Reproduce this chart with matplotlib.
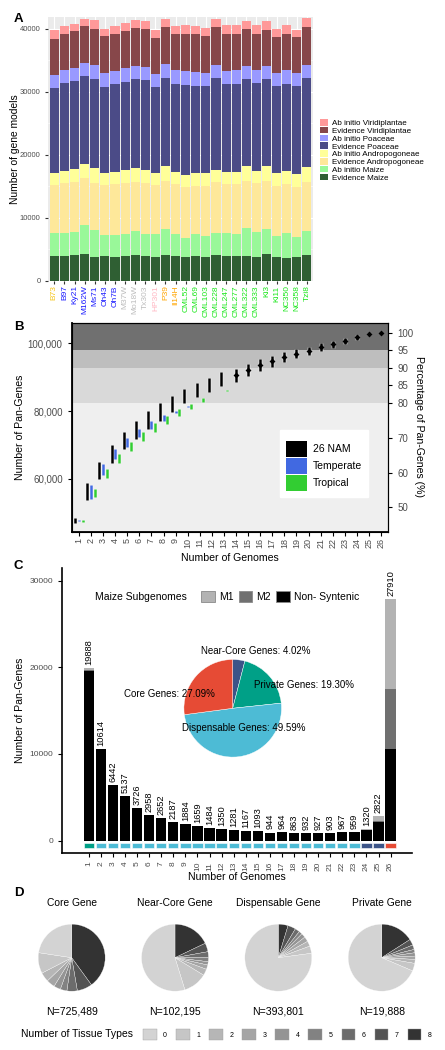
import numpy as np
import matplotlib
matplotlib.use('Agg')
import matplotlib.pyplot as plt
from matplotlib.patches import Patch

plt.rcParams['font.family'] = ['Liberation Sans', 'DejaVu Sans']

W, H = 445, 1050   # figure size in pixels
GRAY_TXT = '#4D4D4D'

# ---------------- panel A data ----------------
lines = ['B73', 'B97', 'Ky21', 'M162W', 'Ms71', 'Oh43', 'Oh7B', 'M37W', 'Mo18W', 'Tx303',
         'HP301', 'P39', 'Il14H', 'CML52', 'CML69', 'CML103', 'CML228', 'CML247', 'CML277',
         'CML322', 'CML333', 'Ki3', 'Ki11', 'NC350', 'NC358', 'Tzi8']
line_group = ['stiff'] + ['temperate'] * 6 + ['mixed'] * 3 + ['popcorn'] + ['sweet'] * 2 + ['tropical'] * 13
group_colors = {'stiff': '#F5C518', 'temperate': '#1A1AFF', 'mixed': '#BDBDBD',
                'popcorn': '#FFB6C1', 'sweet': '#FFA500', 'tropical': '#19E619'}

# cumulative top of each layer (bottom layer first)
evid_maize_top = [3880, 3940, 4100, 4150, 3720, 3940, 3780, 3880, 4100, 3940, 3780, 4100, 3830,
                  3670, 3940, 3720, 4100, 3940, 3830, 3830, 3780, 4150, 3720, 3560, 3720, 4100]
abinit_maize_top = [7550, 7550, 7660, 8830, 7980, 7180, 7230, 7450, 7820, 7450, 7340, 8140, 7450,
                    6700, 7340, 7070, 7500, 7500, 7390, 8300, 7660, 8190, 7070, 7550, 6860, 7820]
evid_andro_top = [15160, 15530, 15690, 16300, 15530, 15160, 15320, 15530, 15690, 15530, 15160, 15800, 15320,
                  14790, 15000, 15000, 15690, 15320, 15320, 15800, 15530, 15800, 15000, 15320, 14890, 15690]
abinit_andro_top = [17100, 17350, 17650, 18550, 17850, 17050, 17200, 17500, 17850, 17600, 17000, 18200, 17300,
                    16800, 17100, 17050, 17600, 17300, 17250, 18150, 17450, 18250, 17000, 17400, 16850, 17950]
evid_poa_top = [30600, 31300, 31750, 32500, 31950, 30800, 31150, 31600, 32000, 31800, 30800, 32200, 31200,
                31100, 30950, 30900, 32100, 31200, 31200, 32000, 31400, 32000, 30850, 31200, 30850, 32100]
abinit_poa_top = [32700, 33400, 33750, 34600, 34200, 32950, 33200, 33700, 34100, 33900, 32800, 34350, 33400,
                  33350, 33100, 32900, 34300, 33350, 33450, 34100, 33500, 34100, 32950, 33450, 32900, 34300]
evid_viri_top = [38400, 39150, 39600, 40350, 40000, 38800, 39150, 39700, 40050, 39950, 38500, 40300, 39150,
                 39200, 39150, 38850, 40300, 39150, 39150, 39900, 39200, 39800, 38600, 39150, 38600, 40200]
abinit_viri_top = [39850, 40480, 40800, 41600, 41300, 40000, 40400, 40950, 41300, 41200, 39850, 41600, 40400,
                   40600, 40350, 40100, 41600, 40500, 40500, 41200, 40500, 41150, 39900, 40600, 39850, 41700]

layer_names = ['Evidence Maize', 'Ab initio Maize', 'Evidence Andropogoneae', 'Ab initio Andropogoneae',
               'Evidence Poaceae', 'Ab initio Poaceae', 'Evidence Viridiplantae', 'Ab initio Viridiplantae']
layer_tops = [evid_maize_top, abinit_maize_top, evid_andro_top, abinit_andro_top,
              evid_poa_top, abinit_poa_top, evid_viri_top, abinit_viri_top]
layer_colors = ['#2F5F33', '#99F899', '#FEE89A', '#FFFF99', '#4B4B87', '#9999FF', '#87474A', '#FF9999']

# ---------------- panel B data ----------------
n_genomes = np.arange(1, 27)
pan_total_genes = 103033
nam_lo = [47000, 53700, 59810, 64740, 68870, 71830, 74590, 77150, 79710, 82270, 84240, 85720, 87390,
          88670, 90350, 91730, 92910, 94390, 95570, 96550, 97640, 98720, 99900, 100890, 102600, 102990]
nam_hi = [48300, 58630, 65030, 69960, 73700, 77150, 80000, 82270, 84540, 86410, 88380, 89860, 91530,
          92510, 93990, 95370, 96360, 97340, 98330, 99010, 100000, 100790, 101580, 102560, 102900, 103060]
temp_lo = [47500, 53900, 61100, 65720, 69270, 72220, 74780, 77150, 79500, 81200]
temp_hi = [47900, 58140, 64340, 68680, 72120, 74780, 76950, 78720, 80000, 81400]
trop_lo = [47300, 54690, 60110, 64740, 68280, 71140, 73900, 76060, 78530, 80500, 82570, 84600, 86050]
trop_hi = [47900, 56860, 62770, 67200, 70940, 73900, 76560, 78630, 80600, 82070, 83750, 84850, 86150]
band_pct = [80, 90, 95]
band_colors = ['#EFEFEF', '#D9D9D9', '#BEBEBE', '#707070']

# ---------------- panel C data ----------------
pan_counts = [19888, 10614, 6442, 5137, 3726, 2958, 2652, 2187, 1884, 1659, 1484, 1350, 1281,
              1167, 1093, 944, 964, 863, 932, 927, 903, 967, 959, 1320, 2822, 27910]
nonsyn = [19600, 10614, 6442, 5137, 3726, 2958, 2652, 2187, 1884, 1659, 1484, 1350, 1281,
          1167, 1093, 944, 964, 863, 932, 927, 903, 967, 959, 1200, 2120, 10610]
m2 = [40, 0, 0, 0, 0, 0, 0, 0, 0, 0, 0, 0, 0, 0, 0, 0, 0, 0, 0, 0, 0, 0, 0, 30, 180, 6890]
m1 = [248, 0, 0, 0, 0, 0, 0, 0, 0, 0, 0, 0, 0, 0, 0, 0, 0, 0, 0, 0, 0, 0, 0, 90, 522, 10410]
gene_class = ['Private'] + ['Dispensable'] * 22 + ['Near-Core'] * 2 + ['Core']
class_colors = {'Core': '#E64B35', 'Near-Core': '#3C5488', 'Dispensable': '#4DBBD5', 'Private': '#00A087'}
pie_names = ['Near-Core', 'Private', 'Dispensable', 'Core']
pie_pct = [4.02, 19.30, 49.59, 27.09]

# ---------------- panel D data ----------------
d_titles = ['Core Gene', 'Near-Core Gene', 'Dispensable Gene', 'Private Gene']
d_counts = ['N=725,489', 'N=102,195', 'N=393,801', 'N=19,888']
tissue_types = ['0', '1', '2', '3', '4', '5', '6', '7', '8']
tissue_colors = ['#D3D3D3', '#C6C6C6', '#B6B6B6', '#A5A5A5', '#949494', '#828282', '#6C6C6C', '#545454', '#333333']
core_tissue = [22.6, 10.0, 4.5, 4.1, 3.3, 3.2, 5.0, 7.3, 40.0]
nearcore_tissue = [54.7, 11.5, 3.1, 2.1, 1.6, 1.9, 2.9, 4.2, 17.9]
disp_tissue = [77.1, 3.5, 2.5, 2.4, 2.1, 1.6, 2.3, 3.8, 4.7]
private_tissue = [68.5, 3.7, 1.9, 1.6, 1.6, 1.6, 2.2, 2.9, 15.9]


def px_axes(fig, left, top, right, bottom):
    """add axes from pixel box (y measured from the top)"""
    return fig.add_axes([left / W, 1 - bottom / H, (right - left) / W, (bottom - top) / H])


def dodge(k, groups_here, idx):
    # ggplot style dodge, total width 0.9 shared by the groups present at x
    n = len(groups_here)
    i = groups_here.index(idx)
    return k - 0.45 + 0.9 / n * (i + 0.5)


fig = plt.figure(figsize=(W / 100, H / 100), dpi=100)

# ======== A ========
ax_a = px_axes(fig, 48.3, 17.3, 313, 280.5)
ax_a.set_facecolor('#EBEBEB')
x = np.arange(1, 27)
bottom = np.zeros(26)
for name, top, col in zip(layer_names, layer_tops, layer_colors):
    top = np.array(top)
    ax_a.bar(x, top - bottom, bottom=bottom, width=0.9, color=col, linewidth=0, label=name)
    bottom = top
ax_a.set_xlim(0.4, 26.6)
ax_a.set_ylim(0, 41800)
ax_a.set_yticks([0, 10000, 20000, 30000, 40000])
ax_a.set_yticks([5000, 15000, 25000, 35000], minor=True)
ax_a.grid(True, which='major', color='white', lw=0.8)
ax_a.grid(True, which='minor', color='white', lw=0.4)
ax_a.set_axisbelow(True)
ax_a.set_xticks(x)
ax_a.set_xticklabels(lines, rotation=90, fontsize=6)
for lab, g in zip(ax_a.get_xticklabels(), line_group):
    lab.set_color(group_colors[g])
ax_a.tick_params(axis='y', labelsize=5.5, labelcolor=GRAY_TXT, length=2, color='#333333')
ax_a.tick_params(axis='x', length=2, color='#333333', pad=1.5)
ax_a.tick_params(which='minor', length=0)
for s in ax_a.spines.values():
    s.set_visible(False)
h, l = ax_a.get_legend_handles_labels()
ax_a.legend(h[::-1], l[::-1], loc='upper left', bbox_to_anchor=(320 / W, 1 - 119 / H),
            bbox_transform=fig.transFigure, fontsize=5.8, frameon=False, handlelength=1.0,
            handleheight=0.9, labelspacing=-0.04, handletextpad=0.5, borderpad=0, borderaxespad=0)

# ======== B ========
ax_b = px_axes(fig, 71.7, 322.7, 388.3, 531.7)
ylo, yhi = 44340, 106090
ax_b.set_ylim(ylo, yhi)
ax_b.set_xlim(0.4, 26.6)
edges = [ylo] + [p / 100 * pan_total_genes for p in band_pct] + [yhi]
for i, col in enumerate(band_colors):
    ax_b.axhspan(edges[i], edges[i + 1], color=col, lw=0, zorder=0)

series = [(nam_lo, nam_hi, 'black'), (temp_lo, temp_hi, '#4169E1'), (trop_lo, trop_hi, '#32CD32')]
for si, (lo, hi, col) in enumerate(series):
    xs = []
    for j in range(len(lo)):
        here = [g for g, s in enumerate(series) if len(s[0]) > j]
        xs.append(dodge(n_genomes[j], here, si))
    ax_b.vlines(xs, lo, hi, color='white', lw=2.5, zorder=3)
    ax_b.vlines(xs, lo, hi, color=col, lw=1.8, zorder=4)
    if si == 0:
        xs = np.array(xs)
        mid = (np.array(lo) + np.array(hi)) / 2
        big = n_genomes >= 14
        ax_b.scatter(xs[big], mid[big], marker='D', s=9, color='black', lw=0, zorder=5)
ax_b.set_yticks([60000, 80000, 100000])
ax_b.set_yticklabels(['60,000', '80,000', '100,000'])
ax_b.set_xticks(n_genomes)
ax_b.set_xticklabels([str(k) for k in n_genomes], rotation=90)
ax_b.tick_params(axis='both', labelsize=7, labelcolor=GRAY_TXT, length=3, color='black', width=0.8)
ax_b.tick_params(axis='x', labelsize=6.5, pad=1.5)
for s in ax_b.spines.values():
    s.set_linewidth(0.8)
ax_b.spines['left'].set_linewidth(1.3)
ax_b.spines['bottom'].set_linewidth(1.3)
ax_r = ax_b.twinx()
ax_r.set_ylim(ylo / pan_total_genes * 100, yhi / pan_total_genes * 100)
ax_r.set_yticks([50, 60, 70, 80, 85, 90, 95, 100])
ax_r.tick_params(axis='y', labelsize=7, labelcolor=GRAY_TXT, length=3, width=0.8)
for s in ax_r.spines.values():
    s.set_linewidth(0.8)
b_handles = [Patch(fc='black'), Patch(fc='#4169E1'), Patch(fc='#32CD32')]
leg_b = ax_r.legend(b_handles, ['26 NAM', 'Temperate', 'Tropical'], loc='upper left',
                    bbox_to_anchor=(280 / W, 1 - 430 / H), bbox_transform=fig.transFigure,
                    fontsize=7.5, title=' ', title_fontsize=3, handlelength=1.95, handleheight=1.95,
                    labelspacing=0.1, handletextpad=0.6, borderpad=0.6, borderaxespad=0,
                    fancybox=False, frameon=True, facecolor='white', edgecolor='white', framealpha=1)

# ======== C ========
ax_c = px_axes(fig, 62.3, 568, 411.7, 852.7)
ax_c.set_xlim(-1.2, 27.75)
ax_c.set_ylim(-1384, 31450)
ax_c.bar(x, nonsyn, width=0.85, color='black', lw=0)
ax_c.bar(x, m2, bottom=nonsyn, width=0.85, color='#707070', lw=0)
ax_c.bar(x, m1, bottom=np.array(nonsyn) + np.array(m2), width=0.85, color='#B3B3B3', lw=0)
ax_c.bar(x, [650] * 26, bottom=-880, width=0.85, color=[class_colors[c] for c in gene_class],
         edgecolor='white', lw=0.4)
for xi, v in zip(x, pan_counts):
    ax_c.text(xi, v + 350, str(v), rotation=90, ha='center', va='bottom', fontsize=6.7)
ax_c.set_yticks([0, 10000, 20000, 30000])
ax_c.set_xticks(x)
ax_c.set_xticklabels([str(k) for k in x], rotation=90)
ax_c.tick_params(axis='both', labelsize=6, labelcolor=GRAY_TXT, length=3, width=0.8)
ax_c.spines['top'].set_visible(False)
ax_c.spines['right'].set_visible(False)
ax_c.spines['left'].set_linewidth(1.2)
ax_c.spines['bottom'].set_linewidth(1.2)
c_handles = [Patch(fc='#B3B3B3', ec='#8A8A8A', lw=0.6), Patch(fc='#707070', ec='#8A8A8A', lw=0.6),
             Patch(fc='black', ec='#8A8A8A', lw=0.6)]
ax_c.legend(c_handles, ['M1', 'M2', 'Non- Syntenic'], loc='center left', ncol=3,
            bbox_to_anchor=(201 / W, 1 - 596.7 / H), bbox_transform=fig.transFigure,
            fontsize=7.5, frameon=False, handlelength=1.3, handleheight=1.3, handletextpad=0.4,
            columnspacing=0.5, borderpad=0, borderaxespad=0)

# ======== overlay (pies, labels) ========
ov = fig.add_axes([0, 0, 1, 1])
ov.patch.set_visible(False)


def fy(y):
    return H - y


# pie in C
ov.pie(pie_pct, colors=[class_colors[n] for n in pie_names], startangle=90, counterclock=False,
       center=(232.7, fy(708.3)), radius=48.8, frame=True,
       wedgeprops=dict(edgecolor='white', linewidth=0.3))
ov.text(255.3, fy(650.7), 'Near-Core Genes: 4.02%', ha='center', va='center', fontsize=7)
ov.text(304.3, fy(685), 'Private Genes: 19.30%', ha='center', va='center', fontsize=7)
ov.text(169.3, fy(694), 'Core Genes: 27.09%', ha='center', va='center', fontsize=7)
ov.text(243.3, fy(727.7), 'Dispensable Genes: 49.59%', ha='center', va='center', fontsize=7)
ov.text(95, fy(596.7), 'Maize Subgenomes', ha='left', va='center', fontsize=7.5)

# pies in D
d_vals = [core_tissue, nearcore_tissue, disp_tissue, private_tissue]
d_cx = [71.7, 175.0, 278.3, 381.7]
for cx, vals, title, nlab in zip(d_cx, d_vals, d_titles, d_counts):
    ov.pie(vals[::-1], colors=tissue_colors[::-1], startangle=90, counterclock=False,
           center=(cx, fy(957.7)), radius=33.5, frame=True,
           wedgeprops=dict(edgecolor='white', linewidth=0.2))
    ov.text(cx, fy(903.3), title, ha='center', va='center', fontsize=7.4)
    ov.text(cx, fy(1011.7), nlab, ha='center', va='center', fontsize=7.6)
ov.text(21, fy(1034.3), 'Number of Tissue Types', ha='left', va='center', fontsize=7.5)
d_handles = [Patch(fc=c, ec='#A0A0A0', lw=0.3) for c in tissue_colors]
ov.legend(d_handles, tissue_types, loc='center left', ncol=9, bbox_to_anchor=(143 / W, 1 - 1034.3 / H),
          bbox_transform=fig.transFigure, fontsize=5, frameon=False, handlelength=2.0,
          handleheight=2.0, handletextpad=0.9, columnspacing=1.3, borderpad=0, borderaxespad=0)

# axis titles and panel letters
ov.text(15, fy(149), 'Number of gene models', rotation=90, ha='center', va='center', fontsize=7.4)
ov.text(20, fy(427), 'Number of Pan-Genes', rotation=90, ha='center', va='center', fontsize=7.6)
ov.text(419, fy(427), 'Percentage of Pan-Genes (%)', rotation=270, ha='center', va='center', fontsize=7.6)
ov.text(230, fy(557.7), 'Number of Genomes', ha='center', va='center', fontsize=7.6)
ov.text(20, fy(710), 'Number of Pan-Genes', rotation=90, ha='center', va='center', fontsize=7.6)
ov.text(237, fy(877.3), 'Number of Genomes', ha='center', va='center', fontsize=7.6)
for letter, ly in zip(['A', 'B', 'C', 'D'], [19, 327, 566, 893]):
    ov.text(14, fy(ly), letter, ha='left', va='center', fontsize=9.5, fontweight='bold')

ov.set_xlim(0, W)
ov.set_ylim(0, H)
ov.set_aspect('auto')
ov.axis('off')

fig.savefig('out.png', dpi=100)
